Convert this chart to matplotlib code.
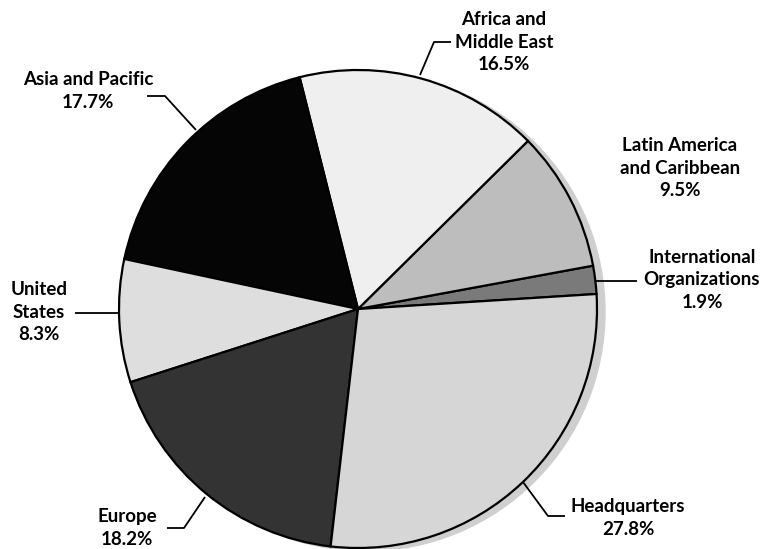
import matplotlib
matplotlib.use("Agg")
from matplotlib import pyplot as plt
from matplotlib.patches import Circle

# Shares by region, counterclockwise from the right edge
regions = ["International\nOrganizations", "Latin America\nand Caribbean",
           "Africa and\nMiddle East", "Asia and Pacific", "United\nStates",
           "Europe", "Headquarters"]
shares = [1.9, 9.5, 16.5, 17.7, 8.3, 18.2, 27.8]
colors = ["#7a7a7a", "#bdbdbd", "#efefef", "#050505", "#dedede", "#333333", "#d6d6d6"]

H = 549
fig = plt.figure(figsize=(7.78, 5.49), dpi=100)
ax = fig.add_axes([0, 0, 1, 1])

cx, cy, r = 358, H - 309, 239

# soft shadow on the right side
ax.add_patch(Circle((cx + 8, cy - 3), r, color="#cfcfcf", zorder=0))

ax.pie(shares, colors=colors, startangle=3.6, counterclock=True,
       center=(cx, cy), radius=r, frame=True,
       wedgeprops=dict(edgecolor="black", linewidth=1.6))
ax.set_xlim(0, 778)
ax.set_ylim(0, H)
ax.axis("off")

# label text: (x, y of the text block centre in image pixels)
labels = [
    (702, 280),
    (680, 168),
    (504, 42),
    (88, 91),
    (39, 312),
    (127, 528),
    (628, 518),
]
font = dict(family=["Lato", "DejaVu Sans"], fontsize=13.5, fontweight="bold")
for name, val, (x, y) in zip(regions, shares, labels):
    txt = name + "\n" + ("%.1f%%" % val)
    ax.text(x, H - y, txt, ha="center", va="center", linespacing=1.38, **font)

# leader lines (image pixel coords)
leaders = [
    [(596, 281), (637, 281)],
    [(147, 96), (165, 96), (196, 130)],
    [(451, 42), (434, 42), (420, 75)],
    [(75, 313), (118, 313)],
    [(167, 528), (184, 528), (205, 497)],
    [(523, 482), (548, 516), (565, 516)],
]
for pts in leaders:
    xs = [p[0] for p in pts]
    ys = [H - p[1] for p in pts]
    ax.plot(xs, ys, color="black", linewidth=1.3, solid_capstyle="butt")

fig.savefig("out.png", dpi=100)
